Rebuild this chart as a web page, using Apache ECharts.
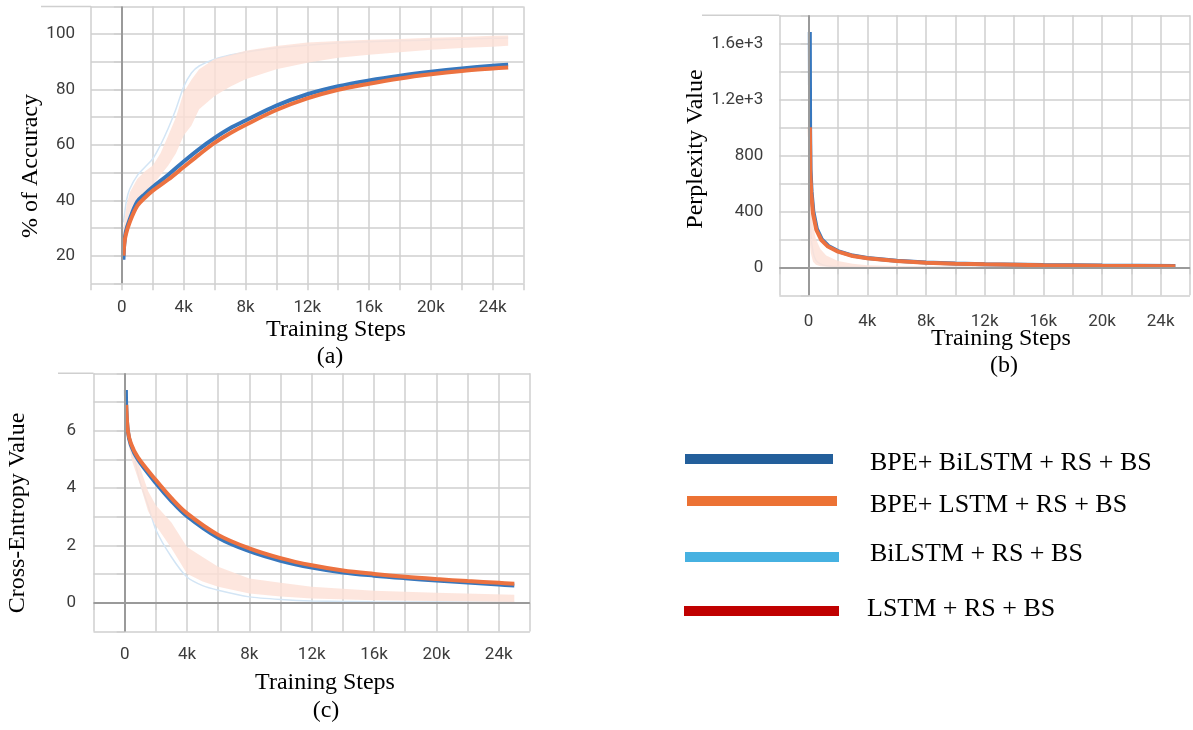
<!DOCTYPE html>
<html><head><meta charset="utf-8">
<script src="https://cdn.jsdelivr.net/npm/echarts/dist/echarts.min.js"></script>
<style>html,body{margin:0;padding:0;background:#fff}#c{width:1193px;height:730px}</style>
</head><body><div id="c"></div>
<script>
// ---------- tick labels ----------
const xLabelSteps = [0, 4000, 8000, 12000, 16000, 20000, 24000];
const xLabelTexts = ['0', '4k', '8k', '12k', '16k', '20k', '24k'];
const accTickValues = [20, 40, 60, 80, 100];
const pplTickValues = [0, 400, 800, 1200, 1600];
const pplTickTexts = ['0', '400', '800', '1.2e+3', '1.6e+3'];
const ceTickValues = [0, 2, 4, 6];

const seriesNames = ['BPE+ BiLSTM + RS + BS', 'BPE+ LSTM + RS + BS', 'BiLSTM + RS + BS', 'LSTM + RS + BS'];

// ---------- (a) accuracy ----------
const accStepsBlue = [100, 150, 250, 500, 1000, 1500, 2000, 3000, 4000, 5000, 6000, 7000, 8000, 10000, 12000, 14000, 16000, 18000, 20000, 22000, 24000, 25000];
const accBlue = [18.5, 24, 28.5, 33, 39.5, 42.3, 44.8, 49.2, 54, 58.5, 62.5, 66, 68.8, 74.2, 78.3, 81.2, 83.3, 85.0, 86.4, 87.6, 88.6, 89.0];
const accStepsOrange = [100, 150, 250, 500, 1000, 1500, 2000, 3000, 4000, 5000, 6000, 7000, 8000, 10000, 12000, 14000, 16000, 18000, 20000, 22000, 24000, 25000];
const accOrange = [20, 24, 27.5, 32, 38, 41, 43.5, 47.5, 52, 56.5, 60.7, 64.2, 67.2, 72.6, 76.8, 79.9, 82.1, 84.0, 85.5, 86.7, 87.6, 88.0];
const accRawSteps = [100, 300, 500, 1000, 1500, 2000, 2500, 3000, 3500, 4000, 4500, 5000, 6000, 7000, 8000, 10000, 12000, 14000, 16000, 18000, 20000, 22000, 24000, 25000];
const accRawPinkHigh = [30, 38, 42.7, 47.8, 50.5, 52.6, 57, 63.4, 70, 79, 83.5, 87.3, 91, 92.5, 94, 95.7, 97, 97.5, 98, 98.3, 98.7, 99, 99.4, 99.5];
const accRawPinkLow = [22, 30, 35.5, 39.4, 42.5, 45.4, 49, 52.6, 57, 63.4, 67, 72.9, 77.7, 81, 83.7, 87.3, 89.7, 91.5, 92.6, 93.5, 94.4, 95, 95.5, 95.8];
const accRawBlue = [32, 40, 44, 49, 52, 55, 60, 66, 73, 81, 86, 88.5, 91, 92.5, 93.5, 95, 96, 96.8, 97.3, 97.6, 97.9, 98.2, 98.5, 98.6];

// ---------- (b) perplexity ----------
const pplStepsBlue = [80, 100, 130, 200, 320, 560, 900, 1350, 2000, 3000, 4000, 6000, 8000, 10000, 12000, 16000, 20000, 25000];
const pplBlue = [1680, 1000, 700, 540, 400, 275, 200, 152, 116, 84, 66, 46, 34, 27, 22, 16, 12, 9];
const pplStepsOrange = [85, 114, 182, 295, 523, 864, 1318, 2000, 3000, 4000, 6000, 8000, 10000, 12000, 16000, 20000, 25000];
const pplOrange = [1000, 670, 528, 386, 267, 195, 148, 112, 81, 64, 45, 33, 26, 21, 15, 11, 8];
const pplRawSteps = [60, 150, 300, 500, 800, 1200, 2000, 3000, 4000, 6000, 9000, 14000, 25000];
const pplRawPinkHigh = [620, 450, 300, 200, 130, 85, 45, 25, 15, 9, 6, 4, 3];
const pplRawPinkLow = [200, 100, 40, 18, 8, 4, 1, 0, 0, 0, 0, 0, 0];
const pplRawBlue = [550, 250, 110, 50, 25, 12, 5, 2, 1, 0.5, 0.3, 0.2, 0.1];

// ---------- (c) cross-entropy ----------
const ceStepsBlue = [80, 100, 200, 400, 850, 2000, 3000, 4000, 6000, 8000, 10000, 12000, 14000, 16000, 18000, 20000, 22000, 24000, 25000];
const ceBlue = [7.42, 6.85, 6.0, 5.5, 5.0, 4.18, 3.55, 3.02, 2.27, 1.8, 1.47, 1.23, 1.06, 0.95, 0.86, 0.78, 0.71, 0.64, 0.61];
const ceStepsOrange = [100, 200, 400, 850, 2000, 3000, 4000, 6000, 8000, 10000, 12000, 14000, 16000, 18000, 20000, 22000, 24000, 25000];
const ceOrange = [6.9, 6.02, 5.56, 5.07, 4.28, 3.65, 3.12, 2.37, 1.9, 1.56, 1.31, 1.13, 1.01, 0.91, 0.83, 0.76, 0.70, 0.67];
const ceRawSteps = [100, 250, 500, 1000, 1500, 2000, 3000, 4000, 5000, 6000, 8000, 10000, 12000, 16000, 20000, 25000];
const ceRawPinkHigh = [6.6, 5.9, 5.4, 4.7, 3.9, 3.4, 2.8, 1.95, 1.6, 1.26, 0.85, 0.7, 0.56, 0.42, 0.35, 0.28];
const ceRawPinkLow = [6.0, 5.5, 4.9, 4.1, 3.2, 2.7, 1.9, 1.02, 0.75, 0.56, 0.33, 0.22, 0.15, 0.09, 0.07, 0.03];
const ceRawBlue = [6.2, 5.8, 5.3, 4.2, 3.4, 2.55, 1.6, 0.9, 0.6, 0.44, 0.21, 0.12, 0.07, 0.04, 0.03, 0.02];

// ---------- styling ----------
const C_BLUE = '#3777bd', C_ORANGE = '#ec7240', C_RAWBLUE = '#d3e5f5', C_PINK = '#fde0d6';
const GRID_C = '#cfcfcf', ZERO_C = '#9a9a9a';
const TICK_FONT = 'Roboto, "Liberation Sans", sans-serif';
const SERIF = '"Liberation Serif", "Times New Roman", serif';

const zip = (xs, ys) => xs.map((x, i) => [x, ys[i]]);

function xAxisCfg(gi, margin) {
  return {
    type: 'value', gridIndex: gi, min: -2000, max: 26000, interval: 2000,
    axisLine: { show: false },
    axisTick: { show: true, length: 7, lineStyle: { color: GRID_C, width: 1.5 } },
    splitLine: { show: true, lineStyle: { color: GRID_C, width: 1.5 } },
    axisLabel: {
      margin: margin, fontSize: 17, fontFamily: TICK_FONT, color: '#3c3c3c',
      showMinLabel: true, showMaxLabel: true,
      formatter: v => { const i = xLabelSteps.indexOf(Math.round(v)); return i >= 0 ? xLabelTexts[i] : ''; }
    }
  };
}
function yAxisCfg(gi, min, max, interval, margin, fmt) {
  return {
    type: 'value', gridIndex: gi, min, max, interval,
    axisLine: { show: false },
    axisTick: { show: true, length: 8, lineStyle: { color: GRID_C, width: 1.5 } },
    splitLine: { show: true, lineStyle: { color: GRID_C, width: 1.5 } },
    axisLabel: { margin, fontSize: 17, fontFamily: TICK_FONT, color: '#3c3c3c', showMinLabel: true, showMaxLabel: true, formatter: fmt }
  };
}
function band(gi, steps, low, high) {
  return {
    type: 'custom', xAxisIndex: gi, yAxisIndex: gi, silent: true, z: 2, clip: true,
    data: [[steps[0], low[0]]],
    renderItem: (params, api) => {
      const pts = [];
      for (let i = 0; i < steps.length; i++) pts.push(api.coord([steps[i], high[i]]));
      for (let i = steps.length - 1; i >= 0; i--) pts.push(api.coord([steps[i], low[i]]));
      return { type: 'polygon', shape: { points: pts }, style: { fill: C_PINK, opacity: 0.8 } };
    }
  };
}
function rawLine(gi, steps, vals, zeroLines) {
  return {
    type: 'line', xAxisIndex: gi, yAxisIndex: gi, data: zip(steps, vals), showSymbol: false, silent: true, z: 1,
    lineStyle: { color: C_RAWBLUE, width: 1.5 }, smooth: 0.2,
    markLine: { silent: true, symbol: 'none', label: { show: false }, animation: false,
      lineStyle: { color: ZERO_C, width: 2, type: 'solid' }, data: zeroLines }
  };
}
function smoothLine(gi, name, steps, vals, color, z, smooth) {
  return {
    type: 'line', name, xAxisIndex: gi, yAxisIndex: gi, data: zip(steps, vals), showSymbol: false, z,
    lineStyle: { color, width: 4 }, itemStyle: { color }, smooth
  };
}

const grids = [
  { left: 91, top: 6.5, width: 432.6, height: 276.8 },
  { left: 779.3, top: 15.3, width: 410.7, height: 280 },
  { left: 93.5, top: 373.3, width: 436.4, height: 258.3 }
];

const titleText = (x, y, text, rot) => ({
  type: 'text', x, y, rotation: rot || 0, silent: true,
  style: { text, fontSize: 24, fontFamily: SERIF, fill: '#000', align: 'center', verticalAlign: 'middle' }
});
const legendBar = (x, y, w, color) => ({ type: 'rect', silent: true, shape: { x, y, width: w, height: 10 }, style: { fill: color } });
const legendText = (x, y, text) => ({ type: 'text', x, y, silent: true,
  style: { text, fontSize: 26, fontFamily: SERIF, fill: '#000', align: 'left', verticalAlign: 'middle' } });
const edgeLine = (x1, x2, y) => ({ type: 'line', silent: true, shape: { x1, y1: y, x2, y2: y }, style: { stroke: GRID_C, lineWidth: 1.5 } });

const option = {
  animation: false,
  backgroundColor: '#fff',
  grid: grids,
  xAxis: [xAxisCfg(0, 16), xAxisCfg(1, 18), xAxisCfg(2, 15)],
  yAxis: [
    yAxisCfg(0, 10, 110, 10, 16, v => accTickValues.includes(Math.round(v)) ? String(Math.round(v)) : ''),
    yAxisCfg(1, -200, 1800, 200, 16, v => { const i = pplTickValues.indexOf(Math.round(v)); return i >= 0 ? pplTickTexts[i] : ''; }),
    yAxisCfg(2, -1, 8, 1, 17.5, v => ceTickValues.includes(Math.round(v)) ? String(Math.round(v)) : '')
  ],
  series: [
    rawLine(0, accRawSteps, accRawBlue, [{ xAxis: 0 }]),
    band(0, accRawSteps, accRawPinkLow, accRawPinkHigh),
    smoothLine(0, seriesNames[0], accStepsBlue, accBlue, C_BLUE, 3, 0.35),
    smoothLine(0, seriesNames[1], accStepsOrange, accOrange, C_ORANGE, 4, 0.35),

    rawLine(1, pplRawSteps, pplRawBlue, [{ xAxis: 0 }, { yAxis: 0 }]),
    band(1, pplRawSteps, pplRawPinkLow, pplRawPinkHigh),
    smoothLine(1, seriesNames[0], pplStepsBlue, pplBlue, C_BLUE, 3, false),
    smoothLine(1, seriesNames[1], pplStepsOrange, pplOrange, C_ORANGE, 4, false),

    rawLine(2, ceRawSteps, ceRawBlue, [{ xAxis: 0 }, { yAxis: 0 }]),
    band(2, ceRawSteps, ceRawPinkLow, ceRawPinkHigh),
    smoothLine(2, seriesNames[0], ceStepsBlue, ceBlue, C_BLUE, 3, 0.35),
    smoothLine(2, seriesNames[1], ceStepsOrange, ceOrange, C_ORANGE, 4, 0.35)
  ],
  graphic: [
    edgeLine(41, 91, 6.5), edgeLine(702, 779.3, 15.3), edgeLine(58, 93.5, 373.3),
    titleText(31, 166, '% of Accuracy', Math.PI / 2),
    titleText(696, 149, 'Perplexity Value', Math.PI / 2),
    titleText(18, 513, 'Cross-Entropy Value', Math.PI / 2),
    titleText(336, 330, 'Training Steps'),
    titleText(1001, 339, 'Training Steps'),
    titleText(325, 683, 'Training Steps'),
    titleText(330, 357, '(a)'),
    titleText(1004, 366, '(b)'),
    titleText(326, 711, '(c)'),
    legendBar(685, 454, 148, '#235f9b'),
    legendBar(687, 496, 150, '#ec7234'),
    legendBar(685, 552, 154, '#46b1e1'),
    legendBar(684, 606, 155, '#c00000'),
    legendText(870, 463, seriesNames[0]),
    legendText(870, 505, seriesNames[1]),
    legendText(870, 554, seriesNames[2]),
    legendText(867, 609, seriesNames[3])
  ]
};
echarts.init(document.getElementById('c'), null, { renderer: 'canvas' }).setOption(option);
</script></body></html>
